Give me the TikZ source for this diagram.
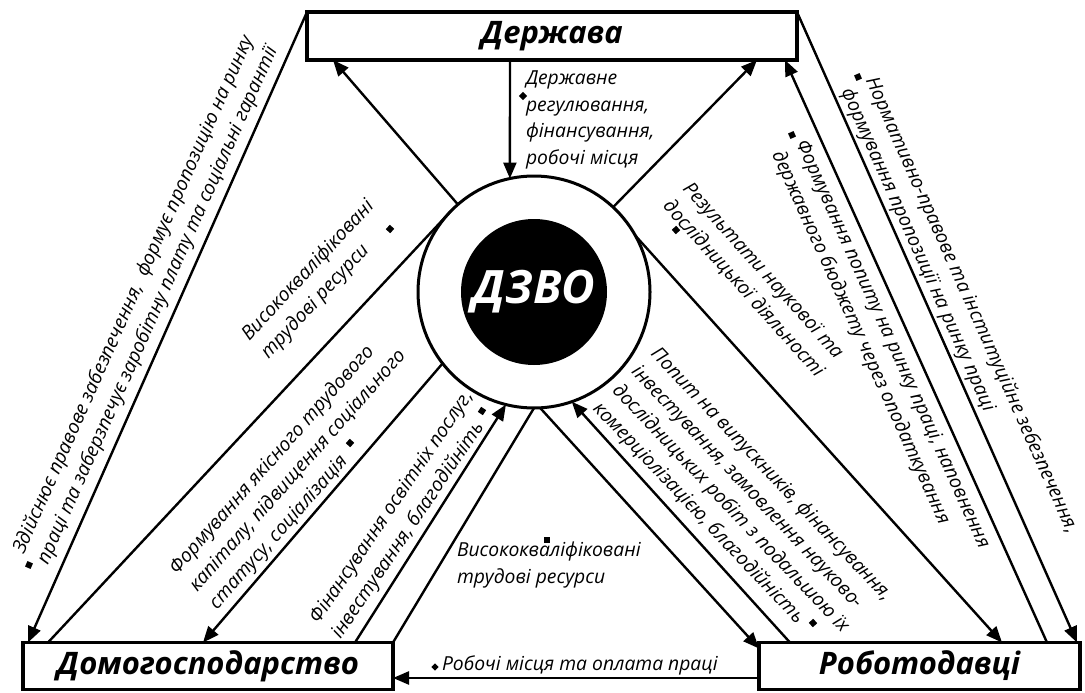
\documentclass[tikz,border=0pt]{standalone}
\usepackage{fontspec}
\setmainfont{Open Sans}
\usetikzlibrary{arrows.meta,calc}

\begin{document}
\begin{tikzpicture}[x=1pt,y=-1pt,every node/.style={outer sep=0pt}]
\tikzstyle{box}=[draw,line width=3.5pt,inner sep=0pt,font=\fontsize{31}{34}\selectfont\bfseries\itshape]
\tikzstyle{arr}=[line width=2.4pt,-{Triangle[length=16pt,width=13pt]}]
\tikzstyle{ln}=[line width=2.4pt]
\tikzstyle{lbl}=[inner sep=0pt,align=left,font=\fontsize{19.3}{26.5}\selectfont\itshape]
\tikzstyle{bul}=[fill,inner sep=0pt,minimum size=6pt]

\useasboundingbox (0,0) rectangle (1085,693);

\node (derzh) [box,minimum width=490pt,minimum height=48pt] at (552,36) {Держава};
\node (domo) [box,minimum width=370pt,minimum height=47pt] at (208,666) {Домогосподарство};
\node (robo) [box,minimum width=321pt,minimum height=47pt] at (919.5,666) {Роботодавці};

\node (dzvo) [circle,draw,line width=3pt,fill=white,minimum size=232pt] at (534,292) {};
\node (dzvoin) [circle,fill=black,minimum size=146pt,text=white,font=\fontsize{46}{46}\selectfont\bfseries\itshape] at (dzvo) {ДЗВО};

\draw [arr] ([xshift=-42pt]derzh.south) -- (dzvo.102);
\draw [arr] (dzvo.131) -- ([xshift=26pt]derzh.south west);
\draw [arr] (dzvo.47) -- ([xshift=-40pt]derzh.south east);
\draw [arr] (derzh.north west) -- ([xshift=5pt]domo.north west);
\draw [ln] ([xshift=25pt]domo.north west) -- (dzvo.136);
\draw [arr] (dzvo.218) -- ([xshift=180pt]domo.north west);
\draw [arr] ([xshift=332pt]domo.north west) -- (dzvo.256);
\draw [ln] (domo.north east) -- (dzvo.270);
\draw [arr] (dzvo.273) -- ([yshift=-6pt]robo.north west);
\draw [arr] ([xshift=31pt]robo.north west) -- (dzvo.289);
\draw [arr] (dzvo.29) -- ([xshift=243pt]robo.north west);
\draw [arr] ([xshift=288pt]robo.north west) -- ([xshift=-12pt]derzh.south east);
\draw [arr] (derzh.north east) -- ([xshift=-3pt]robo.north east);
\draw [arr] ([yshift=-12pt]robo.west) -- ([yshift=-12pt]domo.east);

\node (lzdijsn) [lbl,rotate=66] at (146,300) {Здійснює правове забезпечення,\ \ формує пропозицію на ринку\\праці та заберзпечує заробітну плату та соціальні гарантії};
\node (lvys1) [lbl,rotate=47] at (318,280) {Висококваліфіковані\\трудові ресурси};
\node (lform) [lbl,rotate=48.5] at (298,471) {Формування якісного трудового\\капіталу, підвищення соціального\\статусу, соціалізація};
\node (lfin) [lbl,rotate=56] at (403,515) {Фінансування освітніх послуг,\\інвестування, благодійніть};
\node (lvys2) [lbl,anchor=west] at (457,565) {Висококваліфіковані\\трудові ресурси};
\node (lderzh) [lbl,anchor=west] at (526,120) {Державне\\регулювання,\\фінансування,\\робочі місця};
\node (lrob) [lbl,anchor=west] at (442,665) {Робочі місця та оплата праці};
\node (lrez) [lbl,rotate=-48] at (753,280) {Результати наукової та\\дослідницької діяльності};
\node (lpopyt) [lbl,rotate=-46.5] at (742,502) {Попит на випускників, фінансування,\\інвестування, замовлення науково-\\дослідницьких робіт з подальшою їх\\комерціолізацією, благодійність};
\node (lbudz) [lbl,rotate=-65.7] at (880,350) {Формування попиту на ринку праці, наповнення\\державного бюджету через оподаткування};
\node (lnorm) [lbl,rotate=-66] at (959,311) {Нормативно-правове та інституційне зебезпечення,\\формування пропозиції на ринку праці};

\node (bzdijsn) [bul,rotate=66] at (29,565) {};
\node (bvys1) [bul,rotate=47] at (390,229) {};
\node (bform) [bul,rotate=48.5] at (350,443) {};
\node (bfin) [bul,rotate=56] at (482,411) {};
\node (bvys2) [bul] at (547,540) {};
\node (bderzh) [bul,rotate=45] at (523,96) {};
\node (brob) [bul,rotate=45,minimum size=5pt] at (435,667) {};
\node (brez) [bul,rotate=-48] at (676,230) {};
\node (bpopyt) [bul,rotate=-46.5] at (813,623) {};
\node (bbudz) [bul,rotate=-65.7] at (792,135) {};
\node (bnorm) [bul,rotate=-66] at (858,77) {};
\end{tikzpicture}
\end{document}
